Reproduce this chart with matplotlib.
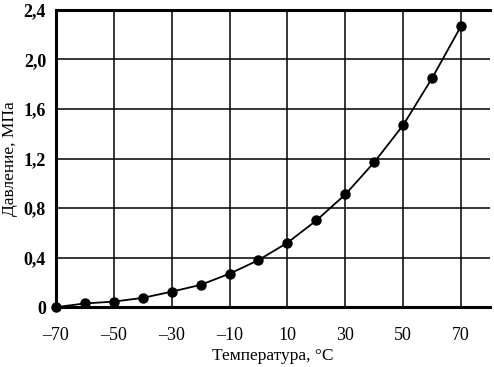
import matplotlib
matplotlib.use("Agg")
import matplotlib.pyplot as plt
import matplotlib.ticker as ticker

# Data
temperature = [-70, -60, -50, -40, -30, -20, -10, 0, 10, 20, 30, 40, 50, 60, 70]
pressure = [0.0, 0.03, 0.045, 0.075, 0.125, 0.18, 0.27, 0.38, 0.52, 0.70,
            0.91, 1.17, 1.47, 1.85, 2.27]
x_ticks = [-70, -50, -30, -10, 10, 30, 50, 70]
y_ticks = [0, 0.4, 0.8, 1.2, 1.6, 2.0, 2.4]

plt.rcParams["font.family"] = ["Liberation Serif", "DejaVu Serif"]

fig = plt.figure(figsize=(4.94, 3.67), dpi=100)
ax = fig.add_axes([0.113, 0.163, 0.879, 0.810])

ax.plot(temperature, pressure, "o-", color="black", linewidth=1.3,
        markersize=6.5, clip_on=False, zorder=3)

ax.set_xlim(-70, 80)
ax.set_ylim(0, 2.4)
ax.set_xticks(x_ticks)
ax.set_yticks(y_ticks)
ax.xaxis.set_major_formatter(
    ticker.FuncFormatter(lambda x, p: f"{int(x)}".replace("-", "\u2013")))
ax.yaxis.set_major_formatter(
    ticker.FuncFormatter(lambda y, p: "0" if y == 0 else f"{y:.1f}".replace(".", ",")))
ax.tick_params(axis="x", length=0, labelsize=13, pad=14)
ax.tick_params(axis="y", length=0, labelsize=13, pad=7)
for lbl in ax.get_yticklabels():
    lbl.set_fontweight("bold")

ax.grid(True, color="black", linewidth=1.1)
ax.spines["right"].set_visible(False)
for side in ["left", "top", "bottom"]:
    ax.spines[side].set_linewidth(2.2)

ax.set_xlabel("Температура, °C", fontsize=12.5, labelpad=3)
ax.set_ylabel("Давление, МПа", fontsize=12.5, labelpad=4)

fig.savefig("out.png", dpi=100)
